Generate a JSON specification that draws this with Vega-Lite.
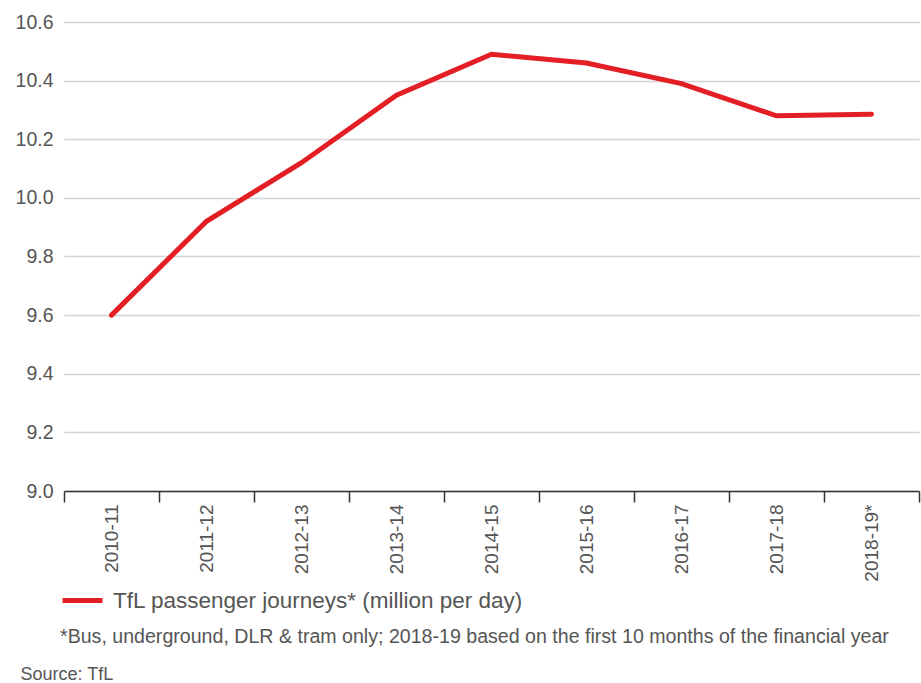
{
  "$schema": "https://vega.github.io/schema/vega-lite/v6.json",
  "width": 855,
  "height": 469,
  "autosize": {"type": "none"},
  "padding": {"left": 64, "top": 22, "right": 2, "bottom": 192},
  "background": "white",
  "config": {
    "view": {"stroke": null},
    "font": "Liberation Sans"
  },
  "data": {
    "values": [
      {"year": "2010-11", "journeys": 9.60, "series": "TfL passenger journeys* (million per day)"},
      {"year": "2011-12", "journeys": 9.92, "series": "TfL passenger journeys* (million per day)"},
      {"year": "2012-13", "journeys": 10.12, "series": "TfL passenger journeys* (million per day)"},
      {"year": "2013-14", "journeys": 10.35, "series": "TfL passenger journeys* (million per day)"},
      {"year": "2014-15", "journeys": 10.49, "series": "TfL passenger journeys* (million per day)"},
      {"year": "2015-16", "journeys": 10.46, "series": "TfL passenger journeys* (million per day)"},
      {"year": "2016-17", "journeys": 10.39, "series": "TfL passenger journeys* (million per day)"},
      {"year": "2017-18", "journeys": 10.28, "series": "TfL passenger journeys* (million per day)"},
      {"year": "2018-19*", "journeys": 10.285, "series": "TfL passenger journeys* (million per day)"}
    ]
  },
  "mark": {"type": "line", "strokeWidth": 5, "strokeCap": "round", "strokeJoin": "miter"},
  "encoding": {
    "x": {
      "field": "year",
      "type": "ordinal",
      "sort": null,
      "bandPosition": 0.5,
      "scale": {"type": "band", "paddingInner": 0, "paddingOuter": 0},
      "axis": {
        "title": "Source: TfL",
        "titleX": -44,
        "titleY": 183,
        "titleAlign": "left",
        "titleBaseline": "middle",
        "titleFontSize": 18,
        "titleFontWeight": "normal",
        "titleColor": "#555555",
        "labelAngle": -90,
        "labelAlign": "right",
        "labelBaseline": "middle",
        "labelFontSize": 19,
        "labelColor": "#555555",
        "labelPadding": 2,
        "tickBand": "extent",
        "tickSize": 11,
        "tickColor": "#333333",
        "tickWidth": 1.5,
        "domainColor": "#333333",
        "domainWidth": 1.5,
        "grid": false
      }
    },
    "y": {
      "field": "journeys",
      "type": "quantitative",
      "scale": {"domain": [9.0, 10.6], "nice": false, "zero": false},
      "axis": {
        "title": null,
        "values": [9.0, 9.2, 9.4, 9.6, 9.8, 10.0, 10.2, 10.4, 10.6],
        "format": ".1f",
        "labelFontSize": 19.5,
        "labelColor": "#555555",
        "labelPadding": 11,
        "ticks": false,
        "domain": false,
        "grid": true,
        "gridColor": "#d4d4d4",
        "gridWidth": 1.5
      }
    },
    "color": {
      "field": "series",
      "type": "nominal",
      "scale": {"range": ["#e31e24"]},
      "legend": {
        "orient": "none",
        "legendX": -4,
        "legendY": 556,
        "title": "*Bus, underground, DLR & tram only; 2018-19 based on the first 10 months of the financial year",
        "titleOrient": "bottom",
        "titleAnchor": "start",
        "titleFontSize": 19.6,
        "titleFontWeight": "normal",
        "titleColor": "#555555",
        "titlePadding": 16,
        "titleLimit": 900,
        "labelFontSize": 22.5,
        "labelColor": "#555555",
        "labelLimit": 600,
        "labelOffset": 8,
        "symbolType": "stroke",
        "symbolSize": 1600,
        "symbolStrokeWidth": 5
      }
    }
  }
}
